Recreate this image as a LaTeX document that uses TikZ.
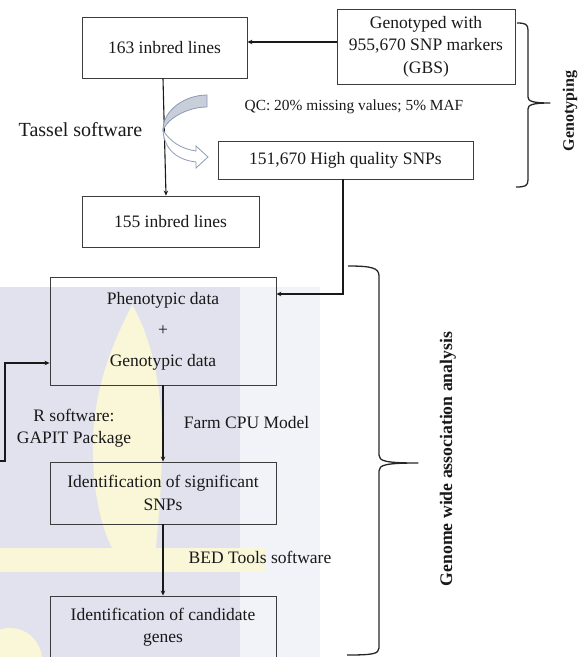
\documentclass[tikz,border=0pt]{standalone}
\usepackage{fontspec}
\setmainfont{Liberation Serif}
\usetikzlibrary{arrows.meta}
\definecolor{wmlav}{RGB}{225,226,237}
\definecolor{wmlight}{RGB}{242,243,248}
\definecolor{wmyel}{RGB}{249,247,216}
\definecolor{boxline}{RGB}{60,60,60}
\definecolor{arrline}{RGB}{140,155,180}
\definecolor{arrshade}{RGB}{200,206,218}
\begin{document}
\begin{tikzpicture}[x=1pt,y=-1pt,
 box/.style={draw=boxline, line width=0.9pt, align=center, inner sep=0pt, font=\fontsize{17.5}{22.5}\selectfont, text=black!90},
 lbl/.style={align=center, inner sep=0pt, font=\fontsize{17.5}{22}\selectfont, text=black!90},
 conn/.style={draw=black!90, line width=1.1pt},
 arr/.style={conn, -{Stealth[length=5pt,width=4.5pt]}},
 brace/.style={draw=black!85, line width=1.3pt, line join=round}]
\useasboundingbox (0,0) rectangle (585,657);
\clip (0,0) rectangle (585,657);
% watermark
\fill[wmlight] (240,287) rectangle (320,657);
\fill[wmlav] (0,287) rectangle (240,657);
\fill[wmyel] (132,305) .. controls (148,330) and (162,380) .. (162,440)
  .. controls (162,490) and (158,520) .. (156,548) -- (112,548)
  .. controls (98,520) and (92,480) .. (93,440)
  .. controls (95,380) and (117,335) .. (132,305) -- cycle;
\fill[wmyel] (0,548) rectangle (265,572);
\fill[wmyel] (10,660) circle (32);
% boxes
\node[box, minimum width=165pt, minimum height=61pt] (l163) at (164.5,47.5) {163 inbred lines};
\node[box, minimum width=178pt, minimum height=75pt] (gen) at (426,46.5) {Genotyped with\\955,670 SNP markers\\(GBS)};
\node[box, minimum width=255pt, minimum height=38pt] (hq) at (345.5,160) {151,670 High quality SNPs};
\node[box, minimum width=177pt, minimum height=51pt] (l155) at (170.5,221.5) {155 inbred lines};
\node[box, minimum width=226pt, minimum height=108pt] (pheno) at (163,331) {Phenotypic data\\[8.5pt]+\\[8.5pt]Genotypic data};
\node[box, minimum width=226pt, minimum height=62pt] (sig) at (163,493) {Identification of significant\\SNPs};
\node[box, minimum width=226pt, minimum height=62pt] (cand) at (163,627) {Identification of candidate\\genes};
% labels
\node[lbl, font=\fontsize{20}{24}\selectfont] (tassel) at (80.5,130) {Tassel software};
\node[lbl, font=\fontsize{15.4}{18}\selectfont] (qc) at (354,107) {QC: 20\% missing values; 5\% MAF};
\node[lbl] (rsw) at (74,428) {R software:\\GAPIT Package};
\node[lbl] (farm) at (246.5,423) {Farm CPU Model};
\node[lbl] (bed) at (260,557) {BED Tools software};
\node[lbl, font=\bfseries\fontsize{16}{19}\selectfont, rotate=90] (gt) at (570,111) {Genotyping};
\node[lbl, font=\bfseries\fontsize{17.7}{21}\selectfont, rotate=90] (gwas) at (448,459) {Genome wide association analysis};
% connectors
\draw[arr] (gen.west |- 0,42) -- (l163.east |- 0,42);
\draw[arr] (l163.south -| 163,0) -- (l155.north -| 166,0);
\draw[arr] (hq.south -| 343,0) |- (pheno.east |- 0,294);
\coordinate (lf) at (0,461);
\draw[arr] (lf) -- ++(5,0) |- (pheno.west |- 0,363);
\draw[arr] (pheno.south) -- (sig.north);
\draw[arr] (sig.south) -- (cand.north);
% curved block arrow
\draw[fill=arrshade, draw=arrline, line width=0.8pt] (163,130) .. controls (163,110) and (185,95) .. (207,95)
  -- (207,107) .. controls (188,107) and (168,118) .. (163,130) -- cycle;
\draw[fill=white, draw=arrline, line width=0.8pt] (163,130) .. controls (170,142) and (182,149) .. (196,151)
  -- (196,146) -- (208,157) -- (196,168) -- (196,162)
  .. controls (178,160) and (164,150) .. (163,130) -- cycle;
% braces
\draw[brace] (517,23) .. controls (525,23) and (528,24) .. (528,30) -- (528,97)
  .. controls (528,101) and (532,103) .. (550,103)
  .. controls (532,103) and (528,105) .. (528,109) -- (528,180)
  .. controls (528,186) and (525,187) .. (516,187);
\draw[brace] (348,266) .. controls (372,266) and (379,268) .. (379,276) -- (379,455)
  .. controls (379,461) and (385,463) .. (418,463)
  .. controls (385,463) and (379,465) .. (379,471) -- (379,648)
  .. controls (379,654) and (372,655) .. (347,655);
\end{tikzpicture}
\end{document}
